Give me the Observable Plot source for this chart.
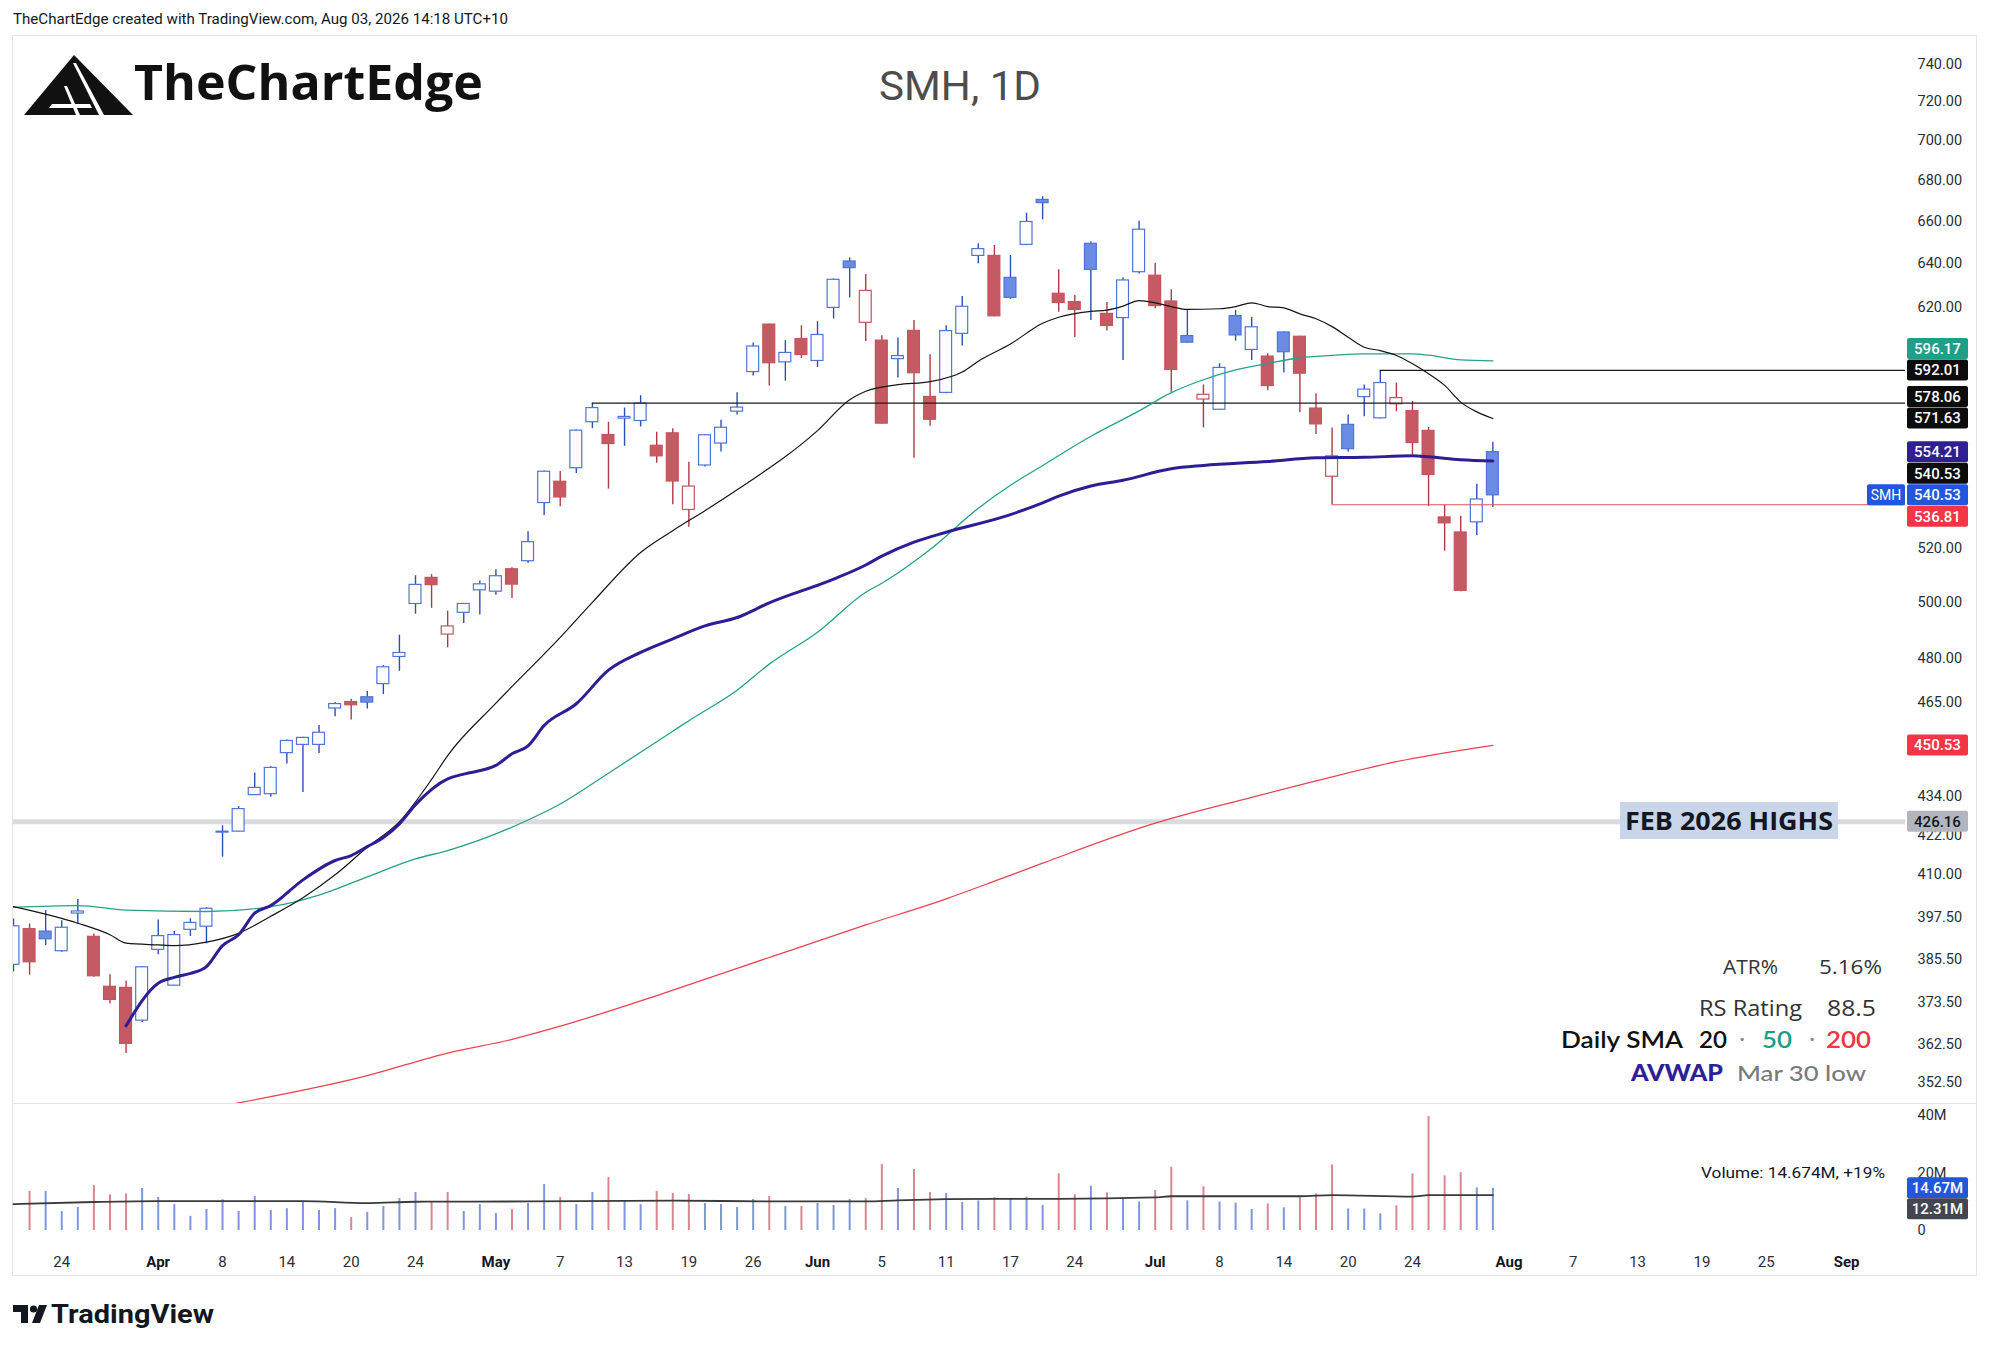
<!DOCTYPE html>
<html><head><meta charset="utf-8">
<script src="https://cdn.jsdelivr.net/npm/d3@7"></script>
<script src="https://cdn.jsdelivr.net/npm/@observablehq/plot@0.6"></script>
<style>
html,body{margin:0;padding:0;background:#fff;}
#page{position:relative;width:1991px;height:1353px;overflow:hidden;background:#fff;font-family:Roboto,"Noto Sans",sans-serif;}
.abs{position:absolute;}
#overlay{position:absolute;left:0;top:0;pointer-events:none;}
</style></head>
<body><div id="page">
<div class="abs" style="left:12px;top:35px;width:1965px;height:1241px;border:1px solid #e3e5eb;box-sizing:border-box"></div>
<div class="abs" style="left:12px;top:1103px;width:1965px;height:1px;background:#e3e5eb"></div>
<div class="abs" id="price" style="left:13px;top:36px"></div>
<div class="abs" id="vol" style="left:13px;top:1104px"></div>
<svg id="overlay" width="1991" height="1353"></svg>
</div>
<script>
// ---------------- data ----------------
const days = ["Mar 19","Mar 20","Mar 23","Mar 24","Mar 25","Mar 26","Mar 27","Mar 30","Mar 31",
"Apr 1","Apr 2","Apr 6","Apr 7","Apr 8","Apr 9","Apr 10","Apr 13","Apr 14","Apr 15","Apr 16","Apr 17","Apr 20","Apr 21","Apr 22","Apr 23","Apr 24","Apr 27","Apr 28","Apr 29","Apr 30",
"May 1","May 4","May 5","May 6","May 7","May 8","May 11","May 12","May 13","May 14","May 15","May 18","May 19","May 20","May 21","May 22","May 26","May 27","May 28","May 29",
"Jun 1","Jun 2","Jun 3","Jun 4","Jun 5","Jun 8","Jun 9","Jun 10","Jun 11","Jun 12","Jun 15","Jun 16","Jun 17","Jun 18","Jun 22","Jun 23","Jun 24","Jun 25","Jun 26","Jun 29","Jun 30",
"Jul 1","Jul 2","Jul 6","Jul 7","Jul 8","Jul 9","Jul 10","Jul 13","Jul 14","Jul 15","Jul 16","Jul 17","Jul 20","Jul 21","Jul 22","Jul 23","Jul 24","Jul 27","Jul 28","Jul 29","Jul 30","Jul 31"];

const open = [384.0,394.1,393.4,387.8,398.6,391.9,377.9,377.6,368.7,388.2,
378.2,393.9,394.8,422.8,423.1,434.5,434.8,448.0,450.7,450.7,
462.8,465.0,466.6,471.1,480.5,499.4,509.0,488.4,496.2,504.4,
503.9,512.2,515.2,537.5,545.9,551.3,570.1,564.8,571.6,570.6,
560.4,565.5,534.8,552.4,561.3,574.5,591.3,612.1,595.5,605.7,
596.1,619.6,640.9,612.9,605.0,596.9,609.3,580.7,582.4,608.0,
643.5,643.5,633.3,648.7,670.3,626.0,622.2,649.2,616.9,615.0,
635.9,634.3,622.5,607.0,579.6,575.3,615.9,600.9,598.0,608.6,
606.7,575.8,547.9,569.0,580.6,571.7,577.6,574.7,566.5,531.9,
526.1,530.0,557.8];
const high = [397.0,395.6,399.5,396.5,402.7,392.7,381.2,379.4,383.5,396.7,
393.5,397.1,400.3,424.9,430.9,441.6,443.6,452.3,453.2,457.1,
464.8,465.9,468.6,477.5,488.2,509.8,510.2,496.8,499.6,507.8,
512.0,512.8,526.4,550.2,550.0,566.9,578.06,570.1,576.0,581.2,
565.9,567.4,553.7,565.0,570.9,582.5,604.0,612.4,605.0,611.6,
613.4,632.8,642.6,634.8,607.2,606.1,613.9,598.8,611.6,624.7,
649.2,648.4,643.7,663.8,671.9,637.0,625.2,650.0,622.0,633.3,
660.0,640.1,627.8,618.8,585.8,594.9,618.5,615.3,599.2,608.8,
606.9,582.0,567.7,573.1,585.8,592.01,586.6,578.8,567.9,536.7,
532.4,544.9,561.8];
const low = [382.0,381.1,389.4,387.5,395.6,380.5,373.2,360.0,368.2,386.8,
378.0,392.0,389.9,415.3,423.0,434.4,433.8,444.5,435.3,447.9,
460.0,458.9,462.6,467.5,475.5,495.7,497.8,483.7,492.4,495.4,
502.6,501.4,514.4,532.6,536.1,549.2,567.4,543.0,560.2,568.1,
553.3,536.8,528.1,551.8,557.9,573.1,589.6,585.3,587.4,597.2,
593.3,614.6,624.1,604.6,569.3,588.7,555.3,568.4,582.0,602.6,
639.8,615.6,623.5,648.3,660.6,617.6,606.4,613.9,609.2,596.3,
635.1,619.2,582.7,603.9,567.7,575.0,604.8,596.3,583.3,590.9,
574.0,565.0,536.81,557.8,572.4,571.5,574.4,556.8,536.1,519.0,
503.9,524.9,535.8];
const close = [394.9,384.7,391.2,394.5,399.2,380.8,374.3,362.5,383.3,392.1,
392.4,395.9,400.0,423.1,430.1,436.8,443.2,452.0,453.0,454.7,
464.3,463.9,464.8,476.9,481.9,506.4,506.3,491.3,499.4,506.6,
509.6,506.5,522.4,549.9,539.7,566.6,576.0,561.1,572.3,577.9,
556.1,546.0,544.0,564.7,567.8,576.2,602.4,595.1,599.6,598.7,
607.5,632.4,637.8,627.3,569.5,598.2,590.8,571.1,609.2,620.1,
646.7,615.8,624.1,659.6,668.7,621.8,618.7,637.0,611.5,632.1,
655.9,620.4,592.2,604.1,581.6,593.1,607.3,610.9,585.3,599.9,
590.6,569.2,556.1,559.0,583.8,586.6,580.2,561.5,548.6,529.6,
504.2,538.9,540.53];
// volume in millions
const volume = [null,13.6,13.6,6.6,8.0,15.6,12.4,12.7,14.6,11.5,
9.0,4.9,7.3,10.7,6.6,11.8,7.0,7.6,10.1,7.0,
7.6,4.5,6.3,8.3,11.1,13.2,9.7,13.2,6.6,9.0,
5.9,7.3,9.4,16.0,11.5,9.0,13.2,18.4,10.4,9.0,
13.6,12.9,12.5,9.4,9.0,8.0,10.8,11.8,8.3,8.3,
9.4,8.7,10.8,11.1,22.9,14.6,21.2,13.2,12.9,9.7,
10.3,11.4,11.0,11.6,8.7,19.7,12.4,15.4,13.1,11.2,
9.9,13.9,22.0,10.3,15.2,9.9,9.5,7.3,9.2,7.9,
11.4,12.7,22.8,7.5,7.5,5.8,8.6,19.7,39.6,19.0,
20.1,14.8,14.67];

// indicator readings: trading-day position (0 = Mar 19) and value
const sma20Pos = [0,4,6,7,9,10,12,14,16,18,20,22,24,26,27,30,34,36,39,41,43,45,50,52,53,55,57,59,60,62,64,65,67,68,69,70,71,72,73,75,76,77,78,79,80,81,82,83,84,85,86,87,88,89,90,91,92];
const sma20Val = [400.6,395.8,392.5,390.1,389.6,389.4,390.4,392.9,397.8,403.2,410.0,418.3,426.2,439.5,447.2,464.6,487.4,500.0,518.5,526.8,534.5,542.7,566.6,579.5,583.1,585.9,587.2,591.3,596.0,603.5,612.7,615.4,618.0,618.6,620.4,622.9,621.9,620.2,618.9,619.2,620.2,621.9,620.2,619.6,616.9,614.7,611.2,606.5,602.1,600.6,598.5,594.9,590.6,585.6,578.5,574.4,571.63];
const sma50Pos = [0,4,7,12,16,19,22,25,27,32,34,37,41,42,45,47,50,53,54,57,60,62,64,67,70,72,74,76,78,80,82,84,87,88,90,92];
const sma50Val = [400.4,400.9,399.6,399.2,400.6,404.0,409.4,414.8,417.3,426.7,431.7,441.5,455.2,458.7,469.0,478.0,489.2,503.7,507.0,519.6,535.5,544.5,552.4,564.3,574.8,582.5,588.0,592.2,595.0,597.5,598.5,599.2,599.2,598.6,596.6,596.17];
const sma200Pos = [13,22,27,31,34,40,45,53,58,61,64,71,77,81,86,92];
const sma200Val = [346.5,354.2,360.1,363.7,367.2,375.5,383.0,395.3,402.9,408.1,413.5,425.7,433.8,439.0,445.2,450.53];
const avwapPos = [7,9,10,11,12,13,14,15,16,18,20,21,22,23,24,25,27,28,30,31,32,33,35,37,39,41,43,45,47,51,53,54,56,58,62,64,65,67,69,72,74,78,81,84,87,88,90,92];
const avwapVal = [367.3,378.9,380.5,381.6,383.5,389.4,392.5,398.7,400.9,408.5,414.3,415.8,418.5,421.3,425.5,431.5,439.7,441.2,444.0,447.8,450.4,457.1,464.4,475.9,482.1,486.9,491.5,494.5,499.8,508.5,513.8,517.1,522.4,526.2,533.0,537.6,540.2,544.2,546.5,551.1,552.4,554.0,555.5,555.7,556.3,555.9,554.7,554.21];
const volMaPos = [0,5,9,18,22,25,32,41,47,53,55,61,65,71,72,80,82,87,88,92];
const volMaVal = [9.2,9.9,10.2,10.2,9.5,10.0,10.1,10.4,10.1,10.1,10.5,11.0,11.0,11.5,11.9,11.9,12.3,11.8,12.3,12.31];

// horizontal levels
const levelValues = [578.06, 592.01, 536.81];
const levelFrom = ["May 11", "Jul 22", "Jul 17"];
const feb2026High = 426.16;

// axis ticks
const priceTicks = [740,720,700,680,660,640,620,520,500,480,465,434,422,410,397.5,385.5,373.5,362.5,352.5];
const volTicks = [0,20,40];
const dayTickPos = [3,13,17,21,25,34,38,42,46,54,58,62,66,75,79,83,87,97,101,105,109];
const dayTickLabels = ["24","8","14","20","24","7","13","19","26","5","11","17","24","8","14","20","24","7","13","19","25"];
const monthTickPos = [9,30,50,71,93,114];
const monthTickLabels = ["Apr","May","Jun","Jul","Aug","Sep"];

// price-scale tags
const tagValues = [596.17, 592.01, 578.06, 571.63, 554.21, 540.53, 540.53, 536.81, 450.53, 426.16];
const volTagValues = [14.67, 12.31];

// ---------------- styles ----------------
const tagFill = ["#1f9e88","#0c0c0c","#0c0c0c","#0c0c0c","#2e1f93","#0c0c0c","#2157db","#f23645","#f23645","#b2b5be"];
const tagText = ["#fff","#fff","#fff","#fff","#fff","#fff","#fff","#fff","#fff","#131722"];
const mainTag = 6;
const volTagFill = ["#2157db","#434651"];
const levelColors = ["#1a1a1a","#1a1a1a","#e0505e"];
const BLUE_LINE = "#4f74d6", BLUE_FILL = "#6a8ce2", BLUE_WICK = "#2c4fb3";
const RED_LINE = "#c4545e", RED_FILL = "#c65a63", RED_WICK = "#ad3a46";

// ---------------- build ----------------
const candles = days.map((d, i) => {
  const prev = i > 0 ? close[i - 1] : open[i];
  return {i, day: d, o: open[i], h: high[i], l: low[i], c: close[i], v: volume[i],
    up: close[i] >= prev, hollow: close[i] > open[i]};
});
const pts = (p, v) => p.map((x, k) => ({x, y: v[k]}));
const dayIndex = d => days.indexOf(d);
const X_DOMAIN = [0, 117.66];
const W = 1964, PH = 1067, MR = 72;
const levels = levelValues.map((v, k) => ({y: v, x1: dayIndex(levelFrom[k]), x2: X_DOMAIN[1], color: levelColors[k]}));

const priceChart = Plot.plot({
  width: W, height: PH,
  marginTop: 0, marginBottom: 0, marginLeft: 0, marginRight: MR,
  x: {type: "linear", domain: X_DOMAIN, axis: null},
  y: {type: "log", domain: [347.1, 755.0], axis: null},
  style: {background: "transparent", fontFamily: "Roboto, sans-serif", overflow: "visible"},
  marks: [
    Plot.ruleY([feb2026High], {stroke: "#dadbe1", strokeWidth: 5}),
    Plot.ruleX(candles, {x: "i", y1: "l", y2: "h", stroke: d => d.up ? BLUE_WICK : RED_WICK, strokeWidth: 1.4, clip: true}),
    Plot.rect(candles, {x1: d => d.i - 0.37, x2: d => d.i + 0.37,
      y1: d => Math.min(d.o, d.c), y2: d => Math.max(d.o, d.c),
      fill: d => d.hollow ? "#fff" : (d.up ? BLUE_FILL : RED_FILL),
      stroke: d => d.up ? BLUE_LINE : RED_LINE, strokeWidth: 1.2, clip: true}),
    Plot.ruleY(levels, {y: "y", x1: "x1", x2: "x2", stroke: d => d.color, strokeWidth: 1.1}),
    Plot.line(pts(sma200Pos, sma200Val), {x: "x", y: "y", stroke: "#e8434f", strokeWidth: 1.3, curve: "monotone-x", clip: true}),
    Plot.line(pts(sma50Pos, sma50Val), {x: "x", y: "y", stroke: "#26a08c", strokeWidth: 1.3, curve: "monotone-x", clip: true}),
    Plot.line(pts(sma20Pos, sma20Val), {x: "x", y: "y", stroke: "#151515", strokeWidth: 1.2, curve: "monotone-x", clip: true}),
    Plot.line(pts(avwapPos, avwapVal), {x: "x", y: "y", stroke: "#2c1e94", strokeWidth: 3, curve: "monotone-x", clip: true}),
    Plot.axisY({anchor: "right", ticks: priceTicks, tickFormat: d => d.toFixed(2), tickSize: 0, tickPadding: 12, fontSize: 14.5, fill: "#2a2e39"})
  ]
});
document.getElementById("price").appendChild(priceChart);

// price tags with simple collision avoidance around the main series tag
(function () {
  const ys = priceChart.scale("y");
  const H = 21.5;
  const pos = tagValues.map(v => ys.apply(v));
  for (let k = mainTag - 1, prev = pos[mainTag]; k >= 0; k--) { pos[k] = Math.min(pos[k], prev - H); prev = pos[k]; }
  for (let k = mainTag + 1, prev = pos[mainTag]; k < pos.length; k++) { pos[k] = Math.max(pos[k], prev + H); prev = pos[k]; }
  const g = d3.select(priceChart).append("g").attr("font-family", "Roboto, sans-serif").attr("font-size", 15);
  const bx = W - MR + 2;
  tagValues.forEach((v, k) => {
    g.append("rect").attr("x", bx).attr("y", pos[k] - 10.5).attr("width", 61).attr("height", 21).attr("rx", 2).attr("fill", tagFill[k]);
    g.append("text").attr("x", bx + 30.5).attr("y", pos[k]).attr("dy", "0.36em").attr("text-anchor", "middle")
      .attr("fill", tagText[k]).attr("font-weight", 500).text(v.toFixed(2));
  });
  // series name tag
  g.append("rect").attr("x", W - MR - 38).attr("y", pos[mainTag] - 10.5).attr("width", 38).attr("height", 21).attr("rx", 2).attr("fill", tagFill[mainTag]);
  g.append("text").attr("x", W - MR - 19).attr("y", pos[mainTag]).attr("dy", "0.36em").attr("text-anchor", "middle")
    .attr("fill", "#fff").attr("font-size", 14).text("SMH");
})();

// ---------------- volume pane ----------------
const VH = 172, VMB = 46;
const volData = candles.filter(d => d.v != null);
const volChart = Plot.plot({
  width: W, height: VH,
  marginTop: 0, marginBottom: VMB, marginLeft: 0, marginRight: MR,
  x: {type: "linear", domain: X_DOMAIN, axis: null},
  y: {domain: [0, 43.8], axis: null},
  style: {background: "transparent", fontFamily: "Roboto, sans-serif", overflow: "visible"},
  marks: [
    Plot.ruleX(volData, {x: "i", y: "v", stroke: d => d.up ? "#7e96dc" : "#d8878f", strokeWidth: 2, clip: true}),
    Plot.line(pts(volMaPos, volMaVal), {x: "x", y: "y", stroke: "#3a3a3a", strokeWidth: 1.8, curve: "monotone-x"}),
    Plot.axisY({anchor: "right", ticks: volTicks, tickFormat: d => d === 0 ? "0" : d + "M", tickSize: 0, tickPadding: 12, fontSize: 14.5, fill: "#2a2e39"}),
    Plot.axisX({ticks: dayTickPos, tickFormat: d => dayTickLabels[dayTickPos.indexOf(d)], tickSize: 0, tickPadding: 26, fontSize: 15, fill: "#2a2e39"}),
    Plot.axisX({ticks: monthTickPos, tickFormat: d => monthTickLabels[monthTickPos.indexOf(d)], tickSize: 0, tickPadding: 26, fontSize: 15, fontWeight: "bold", fill: "#131722"})
  ]
});
document.getElementById("vol").appendChild(volChart);
(function () {
  const ys = volChart.scale("y");
  const H = 21;
  const pos = volTagValues.map(v => ys.apply(v));
  for (let k = 1; k < pos.length; k++) pos[k] = Math.max(pos[k], pos[k - 1] + H);
  const g = d3.select(volChart).append("g").attr("font-family", "Roboto, sans-serif").attr("font-size", 15);
  const bx = W - MR + 2;
  volTagValues.forEach((v, k) => {
    g.append("rect").attr("x", bx).attr("y", pos[k] - 10.5).attr("width", 61).attr("height", 21).attr("rx", 2).attr("fill", volTagFill[k]);
    g.append("text").attr("x", bx + 30.5).attr("y", pos[k]).attr("dy", "0.36em").attr("text-anchor", "middle")
      .attr("fill", "#fff").attr("font-weight", 500).text(v.toFixed(2) + "M");
  });
})();

// ---------------- overlay texts ----------------
const ov = d3.select("#overlay");
function txt(x, y, s, o = {}) {
  const t = ov.append("text").attr("x", x).attr("y", y).text(s)
    .attr("font-family", o.font || "Roboto, sans-serif").attr("font-size", o.size || 15)
    .attr("fill", o.fill || "#131722").attr("font-weight", o.weight || 400)
    .attr("text-anchor", o.anchor || "start");
  if (o.len) t.attr("textLength", o.len).attr("lengthAdjust", "spacingAndGlyphs");
  return t;
}
txt(13, 24, "TheChartEdge created with TradingView.com, Aug 03, 2026 14:18 UTC+10", {size: 15, len: 495});

// TheChartEdge logo
ov.append("path").attr("d", "M24,115 L74,55 L133,115 Z").attr("fill", "#111");
ov.append("path").attr("d", "M73,63 L76,63 L104,115 L99,115 Z").attr("fill", "#fff");
ov.append("path").attr("d", "M64,86 L67,86 L80,115 L76,115 Z").attr("fill", "#fff");
ov.append("path").attr("d", "M52,104 L90,104 L92,108 L49,108 Z").attr("fill", "#fff");
txt(134, 100, "TheChartEdge", {font: "'Open Sans', sans-serif", size: 49, weight: 700, fill: "#111", len: 349});

txt(960, 100, "SMH, 1D", {size: 40, fill: "#4d4d4d", anchor: "middle", len: 162});

// FEB 2026 HIGHS tag
ov.append("rect").attr("x", 1620).attr("y", 802).attr("width", 218).attr("height", 37).attr("fill", "#c9d5e9");
txt(1729, 830, "FEB 2026 HIGHS", {font: "'Open Sans', sans-serif", size: 25, weight: 700, fill: "#131722", anchor: "middle", len: 208});

// info block
txt(1723, 974, "ATR%", {font: "'Open Sans', sans-serif", size: 20, fill: "#333", len: 55});
txt(1819, 974, "5.16%", {font: "'Open Sans', sans-serif", size: 20, fill: "#333", len: 63});
txt(1699, 1016, "RS Rating", {font: "'Open Sans', sans-serif", size: 21, fill: "#333", len: 103});
txt(1827, 1016, "88.5", {font: "'Open Sans', sans-serif", size: 21, fill: "#333", len: 49});
txt(1561, 1048, "Daily SMA", {font: "Lato, sans-serif", size: 22, weight: 600, fill: "#111", len: 122});
txt(1699, 1048, "20", {font: "Lato, sans-serif", size: 22, weight: 600, fill: "#111", len: 28});
txt(1742, 1046, "·", {font: "Lato, sans-serif", size: 22, fill: "#888", anchor: "middle"});
txt(1762, 1048, "50", {font: "Lato, sans-serif", size: 22, weight: 600, fill: "#1a9e88", len: 30});
txt(1812, 1046, "·", {font: "Lato, sans-serif", size: 22, fill: "#888", anchor: "middle"});
txt(1826, 1048, "200", {font: "Lato, sans-serif", size: 22, weight: 600, fill: "#f23645", len: 45});
txt(1631, 1081, "AVWAP", {font: "Lato, sans-serif", size: 22, weight: 900, fill: "#2d1f9a", len: 92});
txt(1737, 1081, "Mar 30 low", {font: "Lato, sans-serif", size: 22, weight: 500, fill: "#7a7a7a", len: 129});

// volume legend
txt(1885, 1178, "Volume: 14.674M, +19%", {size: 15.5, anchor: "end", fill: "#131722", len: 184});

// TradingView logo
ov.append("path").attr("d", "M13,1305 H28 V1323 H21 V1312 H13 Z").attr("fill", "#131722");
ov.append("circle").attr("cx", 33.5).attr("cy", 1309).attr("r", 3.6).attr("fill", "#131722");
ov.append("path").attr("d", "M39,1305 H47 L40,1323 H32 Z").attr("fill", "#131722");
txt(51, 1323, "TradingView", {size: 25, weight: 700, fill: "#131722", len: 163});
</script>
</body></html>
